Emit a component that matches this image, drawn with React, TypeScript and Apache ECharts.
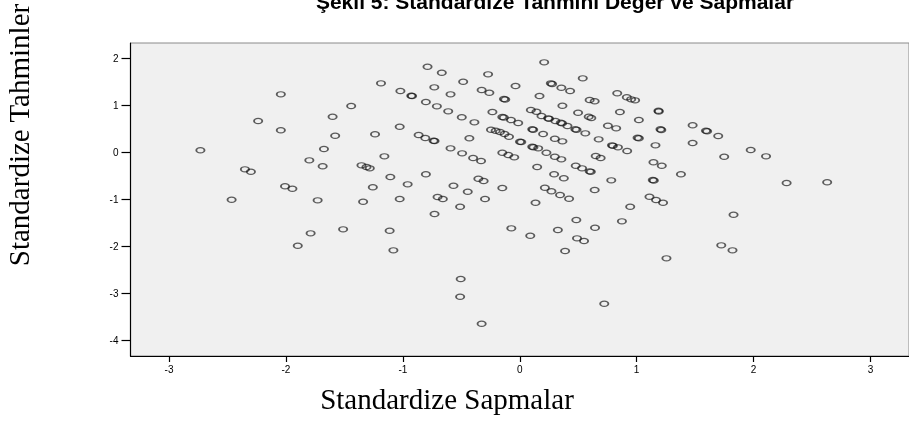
import React, { useEffect, useRef } from "react";
import * as echarts from "echarts";

const titleText = "Şekil 5: Standardize Tahmini Değer ve Sapmalar";
const xAxisName = "Standardize Sapmalar";
const yAxisName = "Standardize Tahminler";

const xTicks = [-3, -2, -1, 0, 1, 2, 3];
const yTicks = [-4, -3, -2, -1, 0, 1, 2];

// Standardize Sapmalar (x)
const sapmalar = [
  -2.044, -2.238, -1.601, -2.044, -1.579, -2.732, -1.675, -1.8, -1.686, -2.351, -2.3, -2.008, -1.945, -2.465, -1.729, -1.789, -1.511, -1.899,
  -0.789, -0.667, -0.271, -1.187, -0.484, -0.036, -1.021, -0.928, -0.921, -0.731, -0.592, -0.326, -0.26, -0.135, -0.124, -1.442, -0.803, -0.709,
  -0.612, -0.496, -0.388, -0.234, -0.149, -0.136, -0.075, -0.013, -1.238, -1.027, -0.865, -0.808, -0.737, -0.729, -0.431, -0.246, -0.206, -0.169,
  -0.13, -0.092, 0.002, 0.013, -0.592, -0.493, -0.399, -0.331, -0.149, -0.098, -0.047, -1.158, -1.354, -1.311, -1.283, -1.107, -0.959, -0.803,
  -0.567, -0.354, -0.309, -0.149, -1.257,
  -0.445, -1.34, -1.027, -0.703, -0.658, -0.51, -0.297, -0.729, -1.113, -0.072, -1.081, -0.505, -0.51, -0.326,
  0.209, 0.539, 0.266, 0.277, 0.356, 0.431, 0.169, 0.834, 0.916, 0.953, 0.987, 0.598, 0.641, 0.365, 1.187, 1.189, 0.095, 0.143, 0.499, 0.59,
  0.612, 0.857, 1.019, 0.186, 0.243, 0.251, 0.305, 0.351, 0.362, 0.408, 0.476, 0.486, 0.561, 0.107, 0.115, 0.2, 0.3, 0.365, 0.754, 0.825,
  0.675, 1.008, 1.019, 1.204, 1.211, 0.789, 0.797, 0.84, 0.919, 1.161, 1.479, 1.593, 1.603, 1.698, 1.479, 1.749, 0.107, 0.117, 0.158, 0.228,
  0.3, 0.356, 0.149, 0.479, 0.533, 0.598, 0.608, 0.65, 0.692, 1.144, 1.215, 1.379, 0.294, 0.377, 0.783, 1.138, 1.147, 0.215, 0.641,
  0.271, 0.345, 0.422, 0.135, 1.11, 1.166, 1.226, 0.945, 0.484, 0.874, 0.326, 0.644, 0.09, 0.49, 0.55, 0.388, 1.255, 1.724, 0.723,
  1.976, 2.107, 2.283, 2.63, 1.829, 1.82,
];

// Standardize Tahminler (y)
const tahminler = [
  1.234, 0.667, 0.758, 0.47, 0.355, 0.045, 0.072, -0.168, -0.295, -0.359, -0.41, -0.718, -0.771, -1.005, -1.018, -1.719, -1.634, -1.982,
  1.821, 1.693, 1.659, 1.468, 1.502, 1.411, 1.304, 1.205, 1.198, 1.383, 1.234, 1.326, 1.268, 1.134, 1.124, 0.986, 1.071, 0.979,
  0.873, 0.746, 0.639, 0.858, 0.752, 0.741, 0.688, 0.625, 0.385, 0.546, 0.37, 0.306, 0.249, 0.242, 0.3, 0.482, 0.461, 0.433,
  0.391, 0.334, 0.227, 0.221, 0.087, -0.019, -0.119, -0.183, -0.006, -0.055, -0.104, -0.083, -0.274, -0.31, -0.338, -0.523, -0.678, -0.465,
  -0.707, -0.559, -0.608, -0.756, -0.741,
  -0.835, -1.047, -0.99, -0.948, -0.99, -1.154, -0.99, -1.309, -1.663, -1.613, -2.08, -2.69, -3.066, -3.639,
  1.914, 1.574, 1.468, 1.453, 1.375, 1.304, 1.198, 1.256, 1.171, 1.128, 1.107, 1.113, 1.086, 0.992, 0.886, 0.869, 0.901, 0.865, 0.843, 0.758,
  0.731, 0.858, 0.688, 0.773, 0.724, 0.714, 0.667, 0.631, 0.618, 0.561, 0.491, 0.48, 0.406, 0.491, 0.48, 0.391, 0.291, 0.236, 0.567, 0.512,
  0.278, 0.312, 0.3, 0.491, 0.476, 0.151, 0.14, 0.108, 0.03, 0.151, 0.576, 0.461, 0.45, 0.348, 0.2, -0.091, 0.121, 0.11, 0.087, -0.006,
  -0.091, -0.147, -0.31, -0.283, -0.338, -0.402, -0.412, -0.076, -0.119, -0.21, -0.283, -0.465, -0.465, -0.55, -0.593, -0.586, -0.597, -0.75, -0.799,
  -0.826, -0.905, -0.984, -1.069, -0.941, -1.011, -1.069, -1.154, -1.436, -1.464, -1.649, -1.6, -1.77, -1.825, -1.882, -2.095, -2.25, -1.974, -3.214,
  0.051, -0.083, -0.65, -0.635, -1.324, -2.08,
];

export default function App() {
  const ref = useRef<HTMLDivElement>(null);
  useEffect(() => {
    if (!ref.current) return;
    const chart = echarts.init(ref.current, undefined, { renderer: "svg" });
    const n = Math.min(sapmalar.length, tahminler.length);
    const data: number[][] = [];
    for (let i = 0; i < n; i++) data.push([sapmalar[i], tahminler[i]]);
    const axisFont = { fontSize: 10, color: "#000", fontFamily: "Liberation Sans, Arial, sans-serif" };
    chart.setOption({
      animation: false,
      grid: {
        left: 130.5,
        top: 43,
        width: 781,
        height: 313,
        show: true,
        backgroundColor: "#f0f0f0",
        borderColor: "#8a8a8a",
        borderWidth: 1,
      },
      xAxis: {
        type: "value",
        min: -3.33,
        max: 3.33,
        axisLine: { show: true, onZero: false, lineStyle: { color: "#000", width: 1.2 } },
        axisTick: { show: true, customValues: xTicks, length: 6, lineStyle: { color: "#000", width: 1.2 } },
        axisLabel: { customValues: xTicks, margin: 8, ...axisFont },
        splitLine: { show: false },
      },
      yAxis: {
        type: "value",
        min: -4.325,
        max: 2.325,
        axisLine: { show: true, onZero: false, lineStyle: { color: "#000", width: 1.2 } },
        axisTick: { show: true, customValues: yTicks, length: 9, lineStyle: { color: "#000", width: 1.2 } },
        axisLabel: { customValues: yTicks, margin: 12, ...axisFont },
        splitLine: { show: false },
      },
      series: [
        {
          type: "scatter",
          data,
          symbol: "path://M0,5 A5,5 0 1,1 10,5 A5,5 0 1,1 0,5 Z",
          symbolSize: [8.2, 5.2],
          itemStyle: { color: "transparent", borderColor: "rgba(20,20,20,0.85)", borderWidth: 1.5 },
          emphasis: { disabled: true },
        },
      ],
      graphic: [
        {
          type: "text",
          x: 555,
          y: 1.5,
          style: {
            text: titleText,
            font: 'bold 21px "Liberation Sans", Arial, sans-serif',
            fill: "#000",
            align: "center",
            verticalAlign: "middle",
          },
        },
        {
          type: "text",
          x: 19,
          y: 135,
          rotation: Math.PI / 2,
          style: {
            text: yAxisName,
            font: '29px "Liberation Serif", "Times New Roman", serif',
            fill: "#000",
            align: "center",
            verticalAlign: "middle",
          },
        },
        {
          type: "text",
          x: 447,
          y: 399,
          style: {
            text: xAxisName,
            font: '29px "Liberation Serif", "Times New Roman", serif',
            fill: "#000",
            align: "center",
            verticalAlign: "middle",
          },
        },
      ],
    });
    return () => chart.dispose();
  }, []);
  return <div ref={ref} style={{ position: "fixed", left: 0, top: 0, width: 909, height: 444 }} />;
}
